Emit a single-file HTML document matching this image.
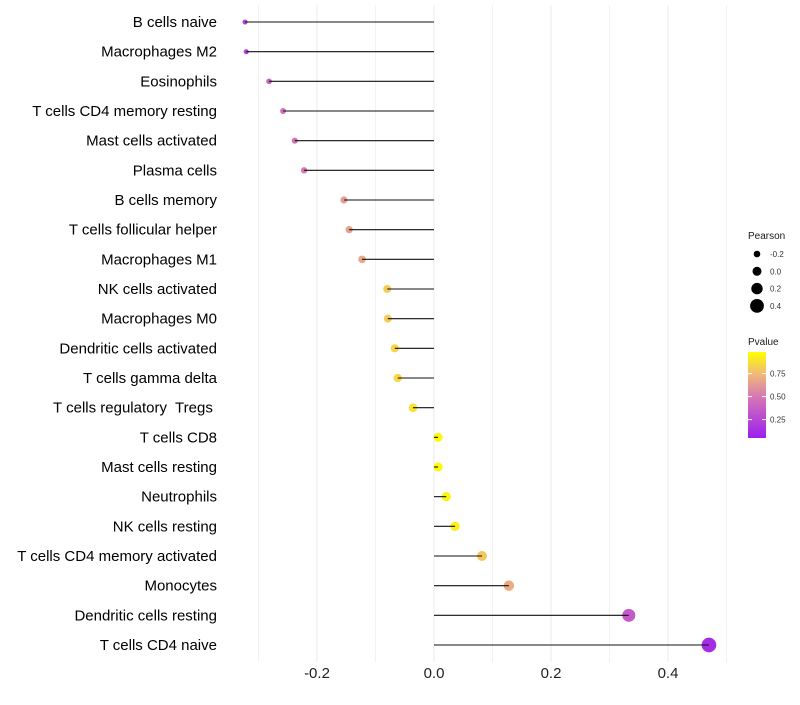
<!DOCTYPE html>
<html><head><meta charset="utf-8"><style>
body{margin:0;background:#fff;font-family:"Liberation Sans",sans-serif}
text{white-space:pre}
</style></head><body>
<svg id="c" width="800" height="700" xmlns="http://www.w3.org/2000/svg" font-family="Liberation Sans, sans-serif"></svg>
<script>
const categories=["B cells naive","Macrophages M2","Eosinophils","T cells CD4 memory resting","Mast cells activated","Plasma cells","B cells memory","T cells follicular helper","Macrophages M1","NK cells activated","Macrophages M0","Dendritic cells activated","T cells gamma delta","T cells regulatory  Tregs ","T cells CD8","Mast cells resting","Neutrophils","NK cells resting","T cells CD4 memory activated","Monocytes","Dendritic cells resting","T cells CD4 naive"];
const pearson=[-0.323,-0.321,-0.282,-0.258,-0.238,-0.222,-0.154,-0.145,-0.123,-0.080,-0.079,-0.067,-0.062,-0.036,0.007,0.007,0.021,0.036,0.082,0.128,0.333,0.470];
const pvalues=[0.22,0.24,0.4,0.45,0.48,0.5,0.65,0.66,0.68,0.82,0.82,0.85,0.86,0.9,0.98,0.98,0.96,0.94,0.8,0.7,0.35,0.12];
const xTicks=[-0.2,0,0.2,0.4];
const xTickLabels=["-0.2","0.0","0.2","0.4"];
const sizeLegend=[-0.2,0,0.2,0.4];
const colorTicks=[0.25,0.5,0.75];
const NS="http://www.w3.org/2000/svg",svg=document.getElementById('c');
const x=v=>434+v*585;
const y=i=>22+i*(623/21);
const r=v=>Math.max(2,4.5+6*v);
const stops=[[0,[150,20,245]],[0.5,[214,120,180]],[0.75,[240,185,120]],[1,[255,255,0]]];
function col(p){for(let i=1;i<stops.length;i++){if(p<=stops[i][0]){const a=stops[i-1],b=stops[i],t=(p-a[0])/(b[0]-a[0]);return 'rgb('+a[1].map((c,k)=>Math.round(c+(b[1][k]-c)*t)).join(',')+')';}}return 'rgb(255,255,0)';}
function el(t,a,p){const e=document.createElementNS(NS,t);for(const k in a)e.setAttribute(k,a[k]);(p||svg).appendChild(e);return e;}
[-0.3,-0.1,0.1,0.3,0.5].forEach(v=>{const g=el('line',{x1:x(v),x2:x(v),y1:5,y2:662,stroke:'#f2f2f2','stroke-width':1});});
xTicks.forEach((v,i)=>{const g=el('line',{x1:x(v),x2:x(v),y1:5,y2:662,stroke:'#ebebeb','stroke-width':1});
const t=el('text',{x:x(v),y:678,'text-anchor':'middle','font-size':15,fill:'#222'});t.textContent=xTickLabels[i];});
categories.forEach((c,i)=>{const t=el('text',{x:217,y:y(i)+5,'text-anchor':'end','font-size':15,fill:'#000'});t.textContent=c;
const d=el('circle',{cx:x(pearson[i]),cy:y(i),r:r(pearson[i]),fill:col(pvalues[i])});
const l=el('line',{x1:x(0),x2:x(pearson[i]),y1:y(i),y2:y(i),stroke:'#111','stroke-width':1.1});});
let t=el('text',{x:748,y:239,'font-size':10,fill:'#1a1a1a'});t.textContent='Pearson';
sizeLegend.forEach((v,i)=>{const cy=254+i*17.3;const c=el('circle',{cx:757,cy:cy,r:r(v),fill:'#000'});
const s=el('text',{x:770,y:cy+3,'font-size':8,fill:'#333'});s.textContent=v.toFixed(1);});
t=el('text',{x:748,y:345,'font-size':10,fill:'#1a1a1a'});t.textContent='Pvalue';
const defs=el('defs',{});const lg=el('linearGradient',{id:'g',x1:0,y1:1,x2:0,y2:0},defs);
const pTop=0.99,pBot=0.05;
el('stop',{offset:0,'stop-color':col(pBot)},lg);
stops.forEach(s=>{if(s[0]>pBot)el('stop',{offset:Math.min(1,(s[0]-pBot)/(pTop-pBot)),'stop-color':col(s[0])},lg);});
const py=p=>438-(p-pBot)*92;
const cb=el('rect',{x:748,y:352,width:18,height:86,fill:'url(#g)'});
colorTicks.forEach(p=>{el('line',{x1:748,x2:752,y1:py(p),y2:py(p),stroke:'#fff'});el('line',{x1:762,x2:766,y1:py(p),y2:py(p),stroke:'#fff'});
const s=el('text',{x:770,y:py(p)+3,'font-size':8,fill:'#333'});s.textContent=p.toFixed(2);});
</script>
</body></html>
